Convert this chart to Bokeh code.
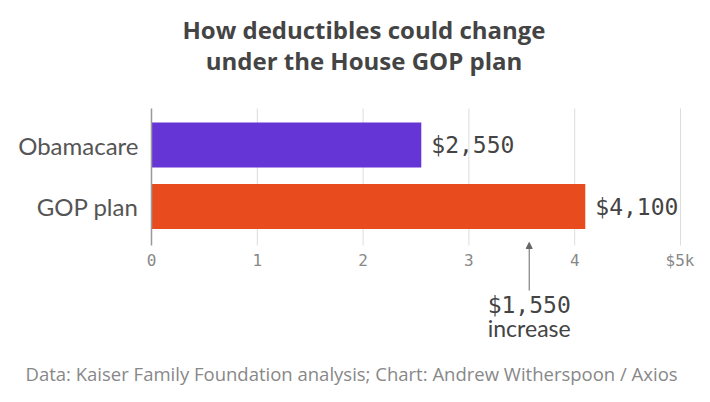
from bokeh.plotting import figure
from bokeh.models import Range1d, FixedTicker, Label, Arrow, NormalHead, ColumnDataSource
from bokeh.embed import file_html
from bokeh.resources import INLINE
from bokeh.core.properties import value

categories = ["GOP plan", "Obamacare"]
deductibles_k = [4.10, 2.55]
value_labels = ["$4,100", "$2,550"]
bar_colors = ["#e84c1e", "#6535d6"]
x_ticks = [0, 1, 2, 3, 4, 5]
x_tick_labels = ["0", "1", "2", "3", "4", "$5k"]
increase_label = "$1,550"
increase_word = "increase"
annot_x = 3.57
title_lines = ["How deductibles could change", "under the House GOP plan"]
footer = "Data: Kaiser Family Foundation analysis; Chart: Andrew Witherspoon / Axios"

W, H = 694, 386
# layout helpers: map pixel positions of the reference picture to data units
X0_PX, PX_PER_X = 151.0, 105.8        # x=0 location, px per $1k
Y1_PX, PX_PER_Y = 144.5, 61.5         # category index 1 location, px per category


def xd(px):
    return (px - X0_PX) / PX_PER_X


def yd(px):
    return 1 - (px - Y1_PX) / PX_PER_Y


ypos = list(range(len(categories)))
plot_bottom, plot_top = yd(245), yd(108)

p = figure(width=W, height=H, output_backend="svg", toolbar_location=None,
           x_range=Range1d(xd(0), xd(W)), y_range=Range1d(yd(H), yd(0)),
           min_border=0)
p.outline_line_color = None
p.background_fill_color = "white"
p.border_fill_color = "white"
p.xgrid.grid_line_color = None
p.ygrid.grid_line_color = None

# light vertical gridlines at the ticks
grid_src = ColumnDataSource(dict(x=x_ticks[1:], y0=[plot_bottom] * (len(x_ticks) - 1),
                                 y1=[plot_top] * (len(x_ticks) - 1)))
p.segment(x0="x", x1="x", y0="y0", y1="y1", source=grid_src, line_color="#dddddd", line_width=1)

src = ColumnDataSource(dict(y=ypos, v=deductibles_k, c=bar_colors, lab=value_labels))
p.hbar(y="y", right="v", left=0, height=0.73, fill_color="c", line_color=None, source=src)
p.text(x="v", y="y", text="lab", source=src, x_offset=10, text_font=value("DejaVu Sans Mono"),
       text_font_size="23px", text_color="#444444", text_baseline="middle", text_align="left")

# axes (fixed inside the frame)
p.xaxis.fixed_location = plot_bottom
p.xaxis.ticker = FixedTicker(ticks=x_ticks)
p.xaxis.major_label_overrides = {t: l for t, l in zip(x_ticks, x_tick_labels)}
p.xaxis.axis_line_color = None
p.xaxis.major_tick_line_color = None
p.xaxis.major_tick_out = 0
p.xaxis.major_tick_in = 0
p.xaxis.minor_tick_line_color = None
p.xaxis.major_label_text_font = "DejaVu Sans Mono"
p.xaxis.major_label_text_font_size = "16px"
p.xaxis.major_label_text_color = "#888888"
p.xaxis.major_label_standoff = 5

p.yaxis.fixed_location = 0
p.yaxis.bounds = (plot_bottom, plot_top)
p.yaxis.ticker = FixedTicker(ticks=ypos)
p.yaxis.major_label_overrides = {y: c for y, c in zip(ypos, categories)}
p.yaxis.axis_line_color = "#999999"
p.yaxis.axis_line_width = 1.5
p.yaxis.major_tick_line_color = None
p.yaxis.major_tick_out = 0
p.yaxis.major_tick_in = 0
p.yaxis.minor_tick_line_color = None
p.yaxis.major_label_text_font = "Lato"
p.yaxis.major_label_text_font_size = "24px"
p.yaxis.major_label_text_color = "#555555"
p.yaxis.major_label_standoff = 13

# annotation
p.add_layout(Arrow(x_start=annot_x, y_start=yd(290), x_end=annot_x, y_end=yd(242),
                   line_color="#666666", line_width=1,
                   end=NormalHead(size=6, fill_color="#666666", line_color="#666666")))
p.add_layout(Label(x=annot_x, y=yd(304), text=increase_label, text_font="DejaVu Sans Mono",
                   text_font_size="23px", text_color="#444444", text_align="center",
                   text_baseline="middle"))
p.add_layout(Label(x=annot_x, y=yd(327), text=increase_word, text_font="Lato",
                   text_font_size="23px", text_color="#444444", text_align="center",
                   text_baseline="middle"))

# title
for line, mid_px in zip(title_lines, [29, 60]):
    p.add_layout(Label(x=xd(363.5), y=yd(mid_px), text=line,
                       text_font="Open Sans", text_font_style="bold", text_font_size="24px",
                       text_color="#444444", text_align="center", text_baseline="middle"))

# footer
p.add_layout(Label(x=xd(25), y=yd(373), text=footer,
                   text_font="Open Sans", text_font_size="18.5px", text_color="#888888",
                   text_align="left", text_baseline="middle"))

open("out.html", "w").write(file_html(p, INLINE))
